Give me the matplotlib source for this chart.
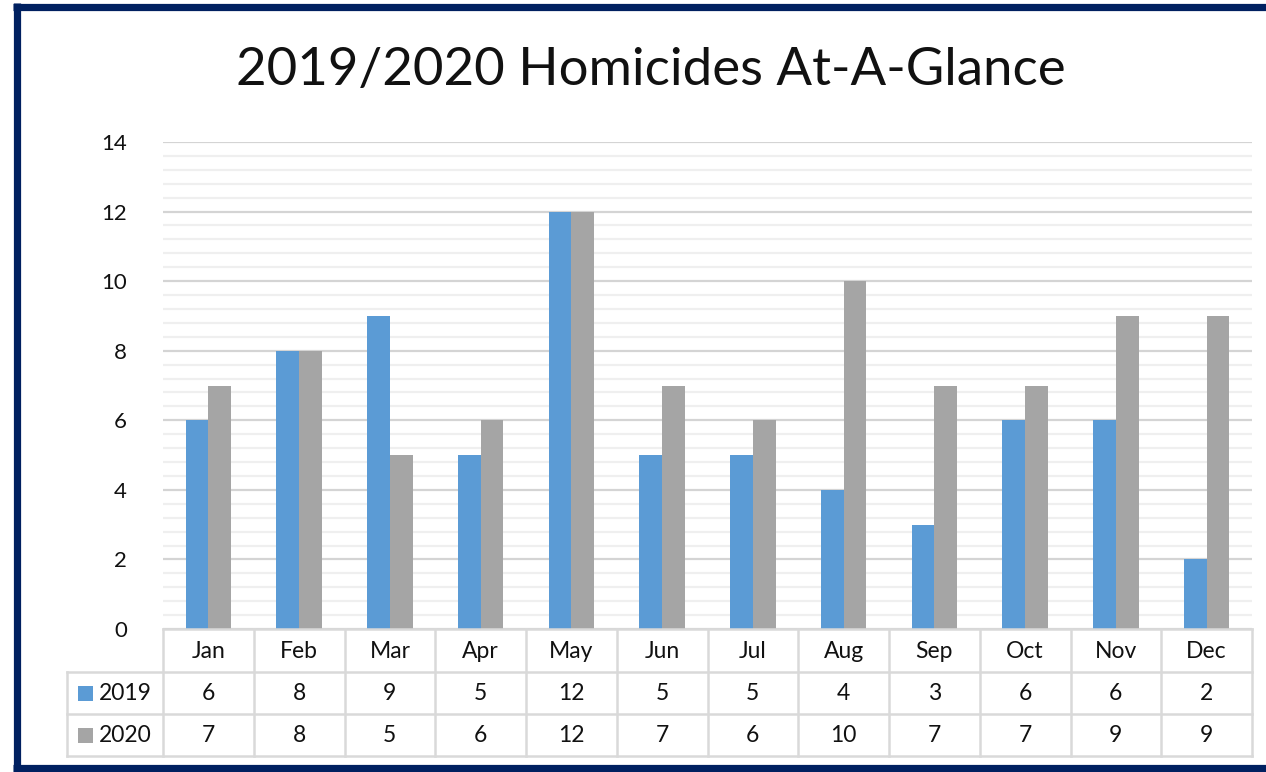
import matplotlib
matplotlib.use("Agg")
import matplotlib.pyplot as plt
from matplotlib.ticker import MultipleLocator
from matplotlib.patches import Rectangle
from matplotlib.lines import Line2D
import matplotlib.transforms as mtransforms

months = ["Jan", "Feb", "Mar", "Apr", "May", "Jun", "Jul", "Aug", "Sep", "Oct", "Nov", "Dec"]
series_names = ["2019", "2020"]
vals_2019 = [6, 8, 9, 5, 12, 5, 5, 4, 3, 6, 6, 2]
vals_2020 = [7, 8, 5, 6, 12, 7, 6, 10, 7, 7, 9, 9]
title = "2019/2020 Homicides At-A-Glance"

BLUE = "#5B9BD5"
GREY = "#A5A5A5"
NAVY = "#002060"
FONT = ["Lato", "DejaVu Sans"]
plt.rcParams["font.family"] = FONT

W, H = 1266, 772
fig = plt.figure(figsize=(W / 100, H / 100), dpi=100)
fig.patch.set_facecolor("white")

def fx(px):
    return px / W

def fy(py):
    return 1 - py / H

# outer navy border: left, top, bottom only (right side lies beyond the image)
blw = 5.2
fig.lines.append(Line2D([fx(16.5), fx(16.5)], [fy(3), fy(771)], transform=fig.transFigure,
                        color=NAVY, lw=blw, solid_capstyle="butt", zorder=10))
fig.lines.append(Line2D([fx(13), fx(1266)], [fy(6.5), fy(6.5)], transform=fig.transFigure,
                        color=NAVY, lw=blw, solid_capstyle="butt", zorder=10))
fig.lines.append(Line2D([fx(13), fx(1266)], [fy(767.5), fy(767.5)], transform=fig.transFigure,
                        color=NAVY, lw=blw, solid_capstyle="butt", zorder=10))

ax_l, ax_r, ax_b, ax_t = 163, 1252, 629, 142
ax = fig.add_axes([fx(ax_l), fy(ax_b), fx(ax_r - ax_l), fy(ax_t) - fy(ax_b)])
ax.set_xlim(-0.5, len(months) - 0.5)
ax.set_ylim(0, 14)

x = list(range(len(months)))
bw = 0.25
ax.bar([i - bw / 2 for i in x], vals_2019, width=bw, color=BLUE, zorder=3)
ax.bar([i + bw / 2 for i in x], vals_2020, width=bw, color=GREY, zorder=3)

ax.yaxis.set_major_locator(MultipleLocator(2))
ax.yaxis.set_minor_locator(MultipleLocator(0.4))
ax.grid(which="major", axis="y", color="#D4D4D4", linewidth=1.6, zorder=1)
ax.grid(which="minor", axis="y", color="#EFEFEF", linewidth=1.6, zorder=1)
ax.set_xticks([])
ax.tick_params(axis="y", which="both", length=0, pad=26, labelsize=16, labelcolor="#111111")
for s in ax.spines.values():
    s.set_visible(False)

fig.text(fx(651), fy(71), title, ha="center", va="center", fontsize=38, color="#111111")

# data table
tr = mtransforms.blended_transform_factory(ax.transData, fig.transFigure)
gc = "#D9D9D9"
lw = 1.8
row_y = [629, 672, 714, 756]
left_px = 67
x_left = ax.transData.inverted().transform((left_px, 0))[0]
x_right = len(months) - 0.5
fig.lines.append(Line2D([-0.5, x_right], [fy(row_y[0])] * 2, transform=tr, color=gc, lw=lw))
for ry in row_y[1:]:
    fig.lines.append(Line2D([x_left, x_right], [fy(ry)] * 2, transform=tr, color=gc, lw=lw))
for k in range(len(months) + 1):
    xv = k - 0.5
    fig.lines.append(Line2D([xv, xv], [fy(row_y[0]), fy(row_y[3])], transform=tr, color=gc, lw=lw))
fig.lines.append(Line2D([x_left, x_left], [fy(row_y[1]), fy(row_y[3])], transform=tr, color=gc, lw=lw))

fs = 16.5
for i, m in enumerate(months):
    fig.text(i, fy((row_y[0] + row_y[1]) / 2 + 1), m, transform=tr, ha="center", va="center",
             fontsize=fs, color="#111111")
    fig.text(i, fy((row_y[1] + row_y[2]) / 2 + 1), str(vals_2019[i]), transform=tr, ha="center",
             va="center", fontsize=fs, color="#111111")
    fig.text(i, fy((row_y[2] + row_y[3]) / 2 + 1), str(vals_2020[i]), transform=tr, ha="center",
             va="center", fontsize=fs, color="#111111")

for r, (name, col) in enumerate(zip(series_names, [BLUE, GREY])):
    yc = (row_y[r + 1] + row_y[r + 2]) / 2
    fig.patches.append(Rectangle((fx(78), fy(yc + 8)), fx(15), fy(yc - 7) - fy(yc + 8),
                                 transform=fig.transFigure, facecolor=col, edgecolor="none"))
    fig.text(fx(99), fy(yc + 1), name, ha="left", va="center", fontsize=fs, color="#111111")

fig.savefig("out.png", dpi=100)
